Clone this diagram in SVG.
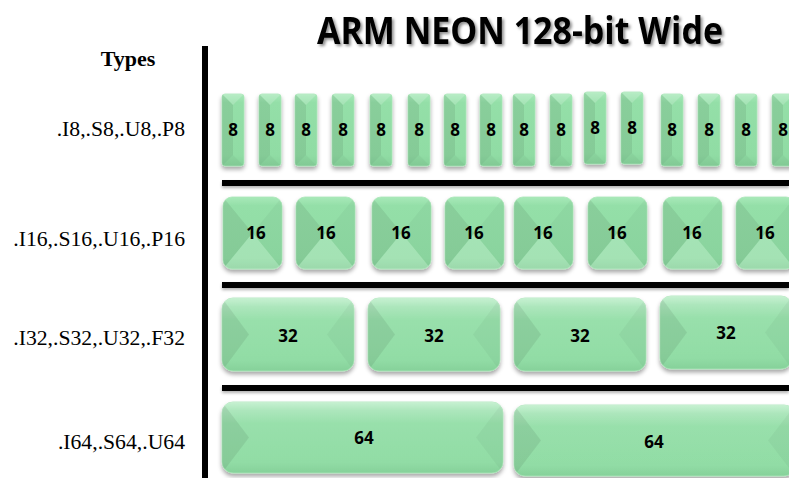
<svg xmlns="http://www.w3.org/2000/svg" xmlns:xlink="http://www.w3.org/1999/xlink" width="789" height="478" viewBox="0 0 789 478">
<style>
.lbl{font-family:"Liberation Serif","Times New Roman",serif;font-size:21.7px;fill:#000;text-anchor:end}
.hd{font-family:"Liberation Serif","Times New Roman",serif;font-size:22px;font-weight:bold;fill:#000;text-anchor:middle}
.num{font-family:"Open Sans","Liberation Sans",sans-serif;font-size:17px;font-weight:bold;fill:#000;text-anchor:middle}
.title{font-family:"Open Sans","Liberation Sans",sans-serif;font-size:38px;font-weight:bold;fill:#000;text-anchor:middle}
.face{fill:url(#gFace);stroke:#a9e6b8;stroke-width:0.8}
.dk{fill:#000;opacity:0.075}
.dk2{fill:#000;opacity:0.035}
.lt{fill:#fff;opacity:0.18}
.bar{fill:#000}
</style>
<defs>
<linearGradient id="gFace" x1="0" y1="0" x2="0" y2="1">
<stop offset="0" stop-color="#a8e9b9"/>
<stop offset="0.12" stop-color="#94dfa8"/>
<stop offset="0.85" stop-color="#90dca4"/>
<stop offset="1" stop-color="#86d19a"/>
</linearGradient>
<linearGradient id="gGloss" x1="0" y1="0" x2="0" y2="1">
<stop offset="0" stop-color="#fff" stop-opacity="0.35"/>
<stop offset="0.3" stop-color="#fff" stop-opacity="0.05"/>
<stop offset="1" stop-color="#fff" stop-opacity="0"/>
</linearGradient>
<filter id="sh" x="-20%" y="-20%" width="140%" height="150%">
<feDropShadow dx="0" dy="3" stdDeviation="2" flood-color="#000" flood-opacity="0.35"/>
</filter>
<filter id="tsh" x="-10%" y="-20%" width="120%" height="150%">
<feDropShadow dx="2" dy="2" stdDeviation="1.5" flood-color="#000" flood-opacity="0.45"/>
</filter>
<filter id="bsh" x="-5%" y="-50%" width="110%" height="300%">
<feDropShadow dx="0" dy="2" stdDeviation="1.5" flood-color="#000" flood-opacity="0.3"/>
</filter>
<clipPath id="c8"><rect width="22" height="72" rx="3"/></clipPath>
<clipPath id="c16"><rect width="59" height="72" rx="9"/></clipPath>
<clipPath id="c32"><rect width="132" height="73" rx="11"/></clipPath>
<clipPath id="c64"><rect width="281" height="71" rx="11"/></clipPath>
<g id="b8">
<rect class="face" width="22" height="72" rx="3" filter="url(#sh)"/>
<g clip-path="url(#c8)">
<polygon class="lt" points="0,0 22,0 11,11"/>
<polygon class="dk" points="0,0 11,11 11,61 0,72"/>
<polygon class="dk2" points="0,72 22,72 11,61"/>
</g>
</g>
<g id="b16">
<rect class="face" width="59" height="72" rx="9" filter="url(#sh)"/>
<g clip-path="url(#c16)">
<polygon class="dk" points="0,0 29.5,36 0,72"/>
<polygon class="lt" points="0,72 59,72 29.5,36" opacity="0.1"/>
<polygon class="dk2" points="59,0 29.5,36 59,72"/>
</g>
</g>
<g id="b32">
<rect class="face" width="132" height="73" rx="11" filter="url(#sh)"/>
<g clip-path="url(#c32)">
<rect width="132" height="73" fill="url(#gGloss)"/>
<polygon class="dk" points="0,0 27,36.5 0,73"/>
<polygon class="dk2" points="132,0 105,36.5 132,73"/>
</g>
</g>
<g id="b64">
<rect class="face" width="281" height="71" rx="11" filter="url(#sh)"/>
<g clip-path="url(#c64)">
<rect width="281" height="71" fill="url(#gGloss)"/>
<polygon class="dk" points="0,0 27,35.5 0,71"/>
<polygon class="dk2" points="281,0 254,35.5 281,71"/>
</g>
</g>
</defs>
<rect width="789" height="478" fill="#fff"/>

<g id="title"><text class="title" x="520" y="44" textLength="406" lengthAdjust="spacingAndGlyphs" filter="url(#tsh)">ARM NEON 128-bit Wide</text></g>
<g id="types"><text class="hd" x="128" y="66">Types</text></g>
<g id="labels">
<text class="lbl" x="185" y="136">.I8,.S8,.U8,.P8</text>
<text class="lbl" x="185" y="246">.I16,.S16,.U16,.P16</text>
<text class="lbl" x="185" y="345">.I32,.S32,.U32,.F32</text>
<text class="lbl" x="185" y="449">.I64,.S64,.U64</text>
</g>

<g id="connectors">
<rect class="bar" x="202" y="46" width="6" height="432"/>
<rect class="bar" x="222" y="180" width="567" height="6" filter="url(#bsh)"/>
<rect class="bar" x="222" y="282" width="567" height="6" filter="url(#bsh)"/>
<rect class="bar" x="222" y="385" width="567" height="6" filter="url(#bsh)"/>
</g>

<g id="row8">
<g id="e8_1" transform="translate(222,94)"><use href="#b8"/><text class="num" x="11" y="42">8</text></g>
<g id="e8_2" transform="translate(259,94)"><use href="#b8"/><text class="num" x="11" y="42">8</text></g>
<g id="e8_3" transform="translate(295,94)"><use href="#b8"/><text class="num" x="11" y="42">8</text></g>
<g id="e8_4" transform="translate(332,94)"><use href="#b8"/><text class="num" x="11" y="42">8</text></g>
<g id="e8_5" transform="translate(370,94)"><use href="#b8"/><text class="num" x="11" y="42">8</text></g>
<g id="e8_6" transform="translate(408,94)"><use href="#b8"/><text class="num" x="11" y="42">8</text></g>
<g id="e8_7" transform="translate(444,94)"><use href="#b8"/><text class="num" x="11" y="42">8</text></g>
<g id="e8_8" transform="translate(480,94)"><use href="#b8"/><text class="num" x="11" y="42">8</text></g>
<g id="e8_9" transform="translate(513,94)"><use href="#b8"/><text class="num" x="11" y="42">8</text></g>
<g id="e8_10" transform="translate(550,94)"><use href="#b8"/><text class="num" x="11" y="42">8</text></g>
<g id="e8_11" transform="translate(584,92)"><use href="#b8"/><text class="num" x="11" y="42">8</text></g>
<g id="e8_12" transform="translate(621,92)"><use href="#b8"/><text class="num" x="11" y="42">8</text></g>
<g id="e8_13" transform="translate(661,94)"><use href="#b8"/><text class="num" x="11" y="42">8</text></g>
<g id="e8_14" transform="translate(698,94)"><use href="#b8"/><text class="num" x="11" y="42">8</text></g>
<g id="e8_15" transform="translate(735,94)"><use href="#b8"/><text class="num" x="11" y="42">8</text></g>
<g id="e8_16" transform="translate(772,94)"><use href="#b8"/><text class="num" x="11" y="42">8</text></g>
</g>

<g id="row16">
<g id="e16_1" transform="translate(223,197)"><use href="#b16"/><text class="num" x="33" y="42">16</text></g>
<g id="e16_2" transform="translate(296,197)"><use href="#b16"/><text class="num" x="30" y="42">16</text></g>
<g id="e16_3" transform="translate(372,197)"><use href="#b16"/><text class="num" x="29" y="42">16</text></g>
<g id="e16_4" transform="translate(445,197)"><use href="#b16"/><text class="num" x="29" y="42">16</text></g>
<g id="e16_5" transform="translate(514,197)"><use href="#b16"/><text class="num" x="29" y="42">16</text></g>
<g id="e16_6" transform="translate(588,197)"><use href="#b16"/><text class="num" x="29" y="42">16</text></g>
<g id="e16_7" transform="translate(663,197)"><use href="#b16"/><text class="num" x="29" y="42">16</text></g>
<g id="e16_8" transform="translate(736,197)"><use href="#b16"/><text class="num" x="29" y="42">16</text></g>
</g>

<g id="row32">
<g id="e32_1" transform="translate(222,298)"><use href="#b32"/><text class="num" x="66" y="44">32</text></g>
<g id="e32_2" transform="translate(368,298)"><use href="#b32"/><text class="num" x="66" y="44">32</text></g>
<g id="e32_3" transform="translate(514,298)"><use href="#b32"/><text class="num" x="66" y="44">32</text></g>
<g id="e32_4" transform="translate(660,296)"><use href="#b32"/><text class="num" x="66" y="43">32</text></g>
</g>

<g id="row64">
<g id="e64_1" transform="translate(222,402)"><use href="#b64"/><text class="num" x="142" y="42">64</text></g>
<g id="e64_2" transform="translate(514,405)"><use href="#b64"/><text class="num" x="140" y="43">64</text></g>
</g>
</svg>
